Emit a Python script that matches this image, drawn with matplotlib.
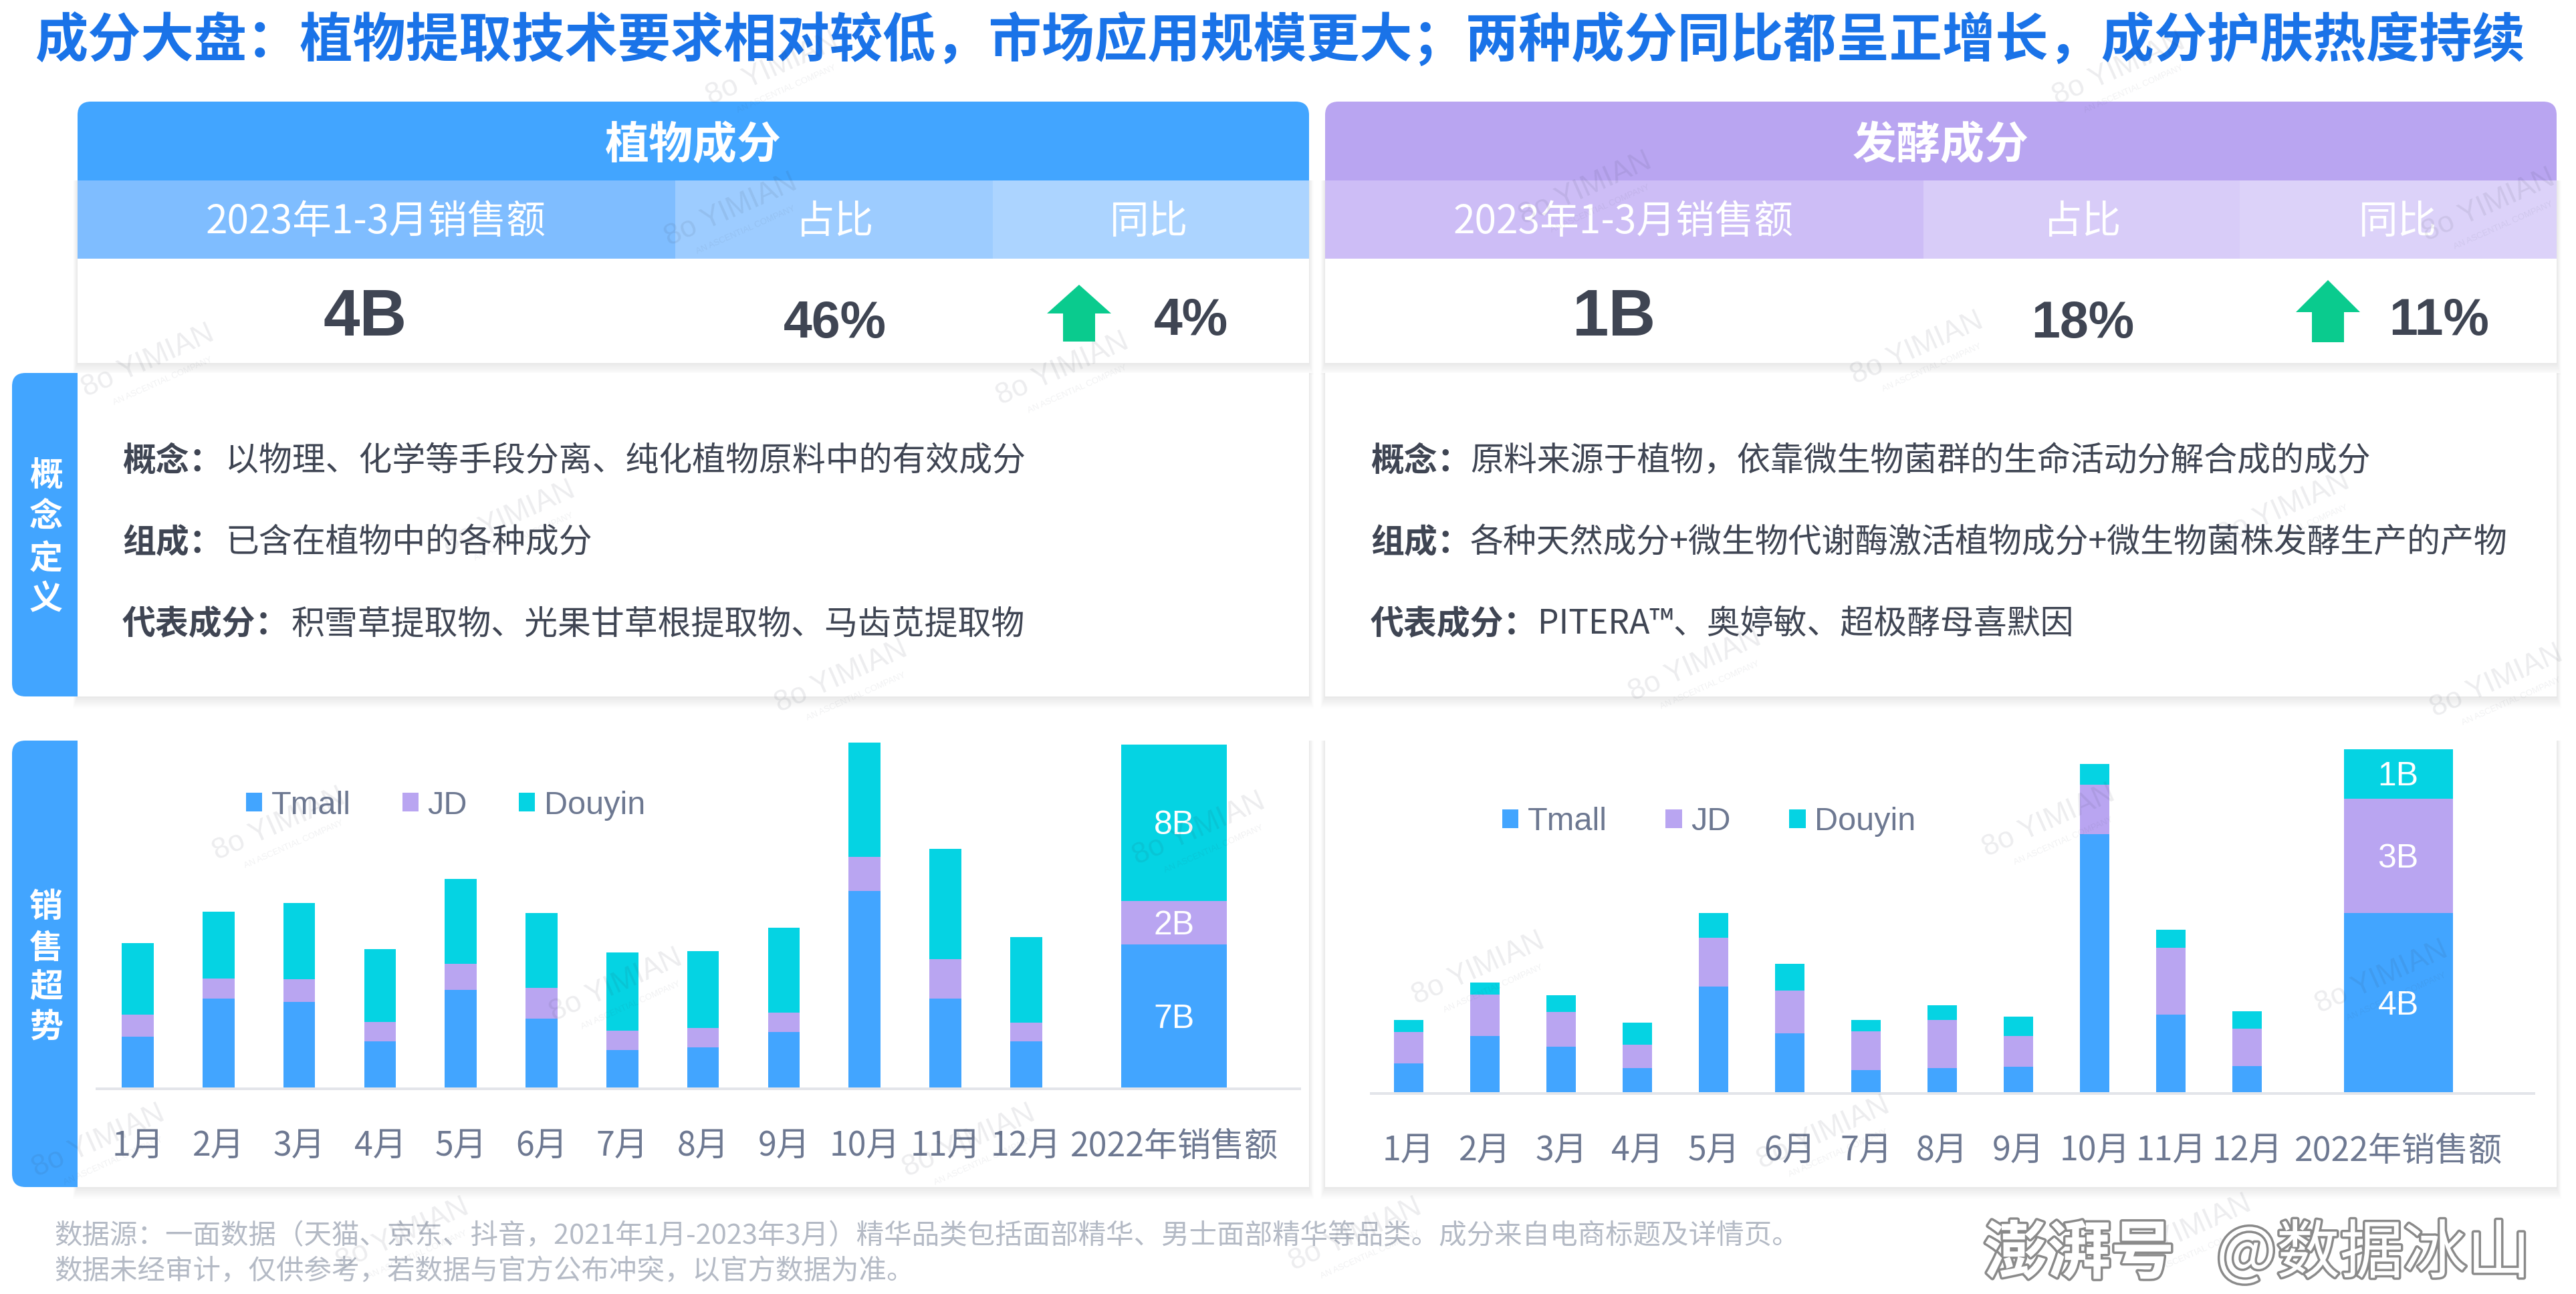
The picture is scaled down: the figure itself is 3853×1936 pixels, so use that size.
import numpy as np
import matplotlib
matplotlib.use('Agg')
import matplotlib.pyplot as plt
from matplotlib.patches import FancyBboxPatch, Rectangle, Polygon
import matplotlib.patheffects as pe

plt.rcParams['font.family'] = ['Noto Sans CJK SC', 'DejaVu Sans']

# * Chart data (heights, arbitrary unit)
months = ['1月', '2月', '3月', '4月', '5月', '6月', '7月', '8月', '9月', '10月', '11月', '12月', '2022年销售额']
series_names = ['Tmall', 'JD', 'Douyin']

plant_tmall = [1.43, 2.48, 2.39, 1.30, 2.72, 1.92, 1.07, 1.14, 1.55, 5.43, 2.47, 1.30]
plant_jd = [0.60, 0.54, 0.61, 0.53, 0.70, 0.84, 0.52, 0.52, 0.54, 0.92, 1.08, 0.51]
plant_douyin = [1.97, 1.84, 2.10, 1.99, 2.33, 2.06, 2.15, 2.12, 2.33, 3.14, 3.03, 2.35]
plant_2022 = [3.96, 1.19, 4.28]
plant_2022_labels = ['7B', '2B', '8B']

ferment_tmall = [0.83, 1.58, 1.29, 0.70, 2.93, 1.64, 0.64, 0.70, 0.74, 7.11, 2.17, 0.76]
ferment_jd = [0.85, 1.14, 0.94, 0.64, 1.34, 1.19, 1.06, 1.31, 0.84, 1.36, 1.83, 1.02]
ferment_douyin = [0.33, 0.33, 0.46, 0.60, 0.67, 0.73, 0.31, 0.40, 0.52, 0.57, 0.48, 0.47]
ferment_2022 = [4.95, 3.13, 1.36]
ferment_2022_labels = ['4B', '3B', '1B']

# full-width punctuation written as escapes
COLON, COMMA, SEMI, LP, RP = '\uff1a', '\uff0c', '\uff1b', '\uff08', '\uff09'

title = (f'成分大盘{COLON}植物提取技术要求相对较低{COMMA}市场应用规模更大{SEMI}'
         f'两种成分同比都呈正增长{COMMA}成分护肤热度持续')
sub_headers = ['2023年1-3月销售额', '占比', '同比']
footer = [f'数据源{COLON}一面数据{LP}天猫、京东、抖音{COMMA}2021年1月-2023年3月{RP}精华品类包括面部精华、男士面部精华等品类。成分来自电商标题及详情页。',
          f'数据未经审计{COMMA}仅供参考{COMMA}若数据与官方公布冲突{COMMA}以官方数据为准。']
plant_lines = [(f'概念{COLON}', '以物理、化学等手段分离、纯化植物原料中的有效成分'),
               (f'组成{COLON}', '已含在植物中的各种成分'),
               (f'代表成分{COLON}', '积雪草提取物、光果甘草根提取物、马齿苋提取物')]
ferment_lines = [(f'概念{COLON}', f'原料来源于植物{COMMA}依靠微生物菌群的生命活动分解合成的成分'),
                 (f'组成{COLON}', '各种天然成分+微生物代谢酶激活植物成分+微生物菌株发酵生产的产物'),
                 (f'代表成分{COLON}', 'PITERA™、奥婷敏、超极酵母喜默因')]
watermarks = [(90, 220), (647, 225), (1167, 212), (445, 128), (965, 115), (1515, 125), (310, 315), (1390, 310),
              (512, 412), (1032, 405), (1520, 415), (170, 502), (730, 505), (1247, 500), (375, 600), (900, 590),
              (1450, 595), (60, 695), (590, 695), (1110, 690), (470, 42), (1290, 42), (825, 752), (245, 752), (1330, 750)]

BLUE = '#42a5ff'
PURPLE = '#b9a5f1'
CYAN = '#05d3e3'
GREEN = '#0acb8e'
DARK = '#3f4553'
AXIS_TEXT = '#6d7891'

W, H = 3853, 1936
fig = plt.figure(figsize=(W / 100, H / 100), dpi=100, facecolor='white')

bg = fig.add_axes([0, 0, 1, 1], zorder=0)
bg.set_xlim(0, W)
bg.set_ylim(H, 0)
bg.axis('off')


def px(v):
    return v * 0.72


def card(x0, x1, y0, y1):
    for i in range(1, 12):
        bg.add_patch(Rectangle((x0 - i * 0.6, y0), x1 - x0 + i * 1.2, y1 - y0 + i * 1.6,
                               fc='#20304a', ec='none', alpha=0.006, zorder=1))
    bg.add_patch(Rectangle((x0, y0), x1 - x0, y1 - y0, fc='white', ec='none', zorder=2))


def header(x0, x1, splits, colors, name, sub_x, big, share, yoy, big_x, share_x, yoy_x, arrow):
    r = 20
    bg.add_patch(FancyBboxPatch((x0 + r, 152 + r), x1 - x0 - 2 * r, 60, boxstyle=f'round,pad={r}',
                                fc=colors[0], ec='none', zorder=3))
    bg.add_patch(Rectangle((x0, 190), x1 - x0, 80, fc=colors[0], ec='none', zorder=3))
    edges = [x0, splits[0], splits[1], x1]
    for i in range(3):
        bg.add_patch(Rectangle((edges[i], 270), edges[i + 1] - edges[i], 116.5, fc=colors[i + 1], ec='none', zorder=3))
        bg.text(sub_x[i], 332, sub_headers[i], color='white', fontsize=px(58.7), ha='center', va='center', zorder=4)
    bg.text((x0 + x1) / 2, 217, name, color='white', fontsize=px(66), fontweight='bold', ha='center', va='center', zorder=4)
    bg.text(big_x, 477, big, color=DARK, fontsize=px(98), fontweight='bold', family='Liberation Sans', ha='center', va='center', zorder=4)
    bg.text(share_x, 484, share, color=DARK, fontsize=px(77), fontweight='bold', family='Liberation Sans', ha='center', va='center', zorder=4)
    bg.text(yoy_x, 480, yoy, color=DARK, fontsize=px(77), fontweight='bold', family='Liberation Sans', ha='center', va='center', zorder=4)
    cx, tip, base, neck = arrow
    bg.add_patch(Polygon([(cx, tip), (cx + 48, neck), (cx + 24, neck), (cx + 24, base),
                          (cx - 24, base), (cx - 24, neck), (cx - 48, neck)], fc=GREEN, ec='none', zorder=4))


def definitions(lines, x_label, x_body):
    for (label, body), y, xb in zip(lines, [690, 812, 935], x_body):
        bg.text(x_label, y, label, color=DARK, fontsize=px(49.9), fontweight='bold', ha='left', va='center', zorder=4)
        bg.text(xb, y, body, color=DARK, fontsize=px(49.9), ha='left', va='center', zorder=4)


def side_tab(y0, y1, chars, ys):
    r = 20
    bg.add_patch(FancyBboxPatch((18 + r, y0 + r), 98 - r, y1 - y0 - 2 * r, boxstyle=f'round,pad={r}',
                                fc=BLUE, ec='none', zorder=3))
    bg.add_patch(Rectangle((116, y0), 25, y1 - y0, fc='white', ec='none', zorder=3))
    bg.add_patch(Rectangle((60, y0), 56, y1 - y0, fc=BLUE, ec='none', zorder=3))
    for c, y in zip(chars, ys):
        bg.text(69, y + 6, c, color='white', fontsize=px(50), fontweight='bold', ha='center', va='center', zorder=4)


def stacked_chart(tmall, jd, douyin, annual, annual_labels, x_left, x_right, base_y, first_x, step,
                  bar_w, annual_x, annual_w, legend_x, legend_y, col_space):
    top_y = 1100
    ax = fig.add_axes([x_left / W, 1 - base_y / H, (x_right - x_left) / W, (base_y - top_y) / H], zorder=1)
    ax.patch.set_alpha(0)
    pos = np.arange(12)
    t, j, d = np.array(tmall), np.array(jd), np.array(douyin)
    colors = [BLUE, PURPLE, CYAN]
    ax.bar(pos, t, bar_w / step, color=BLUE, label=series_names[0])
    ax.bar(pos, j, bar_w / step, bottom=t, color=PURPLE, label=series_names[1])
    ax.bar(pos, d, bar_w / step, bottom=t + j, color=CYAN, label=series_names[2])
    xa = (annual_x - first_x) / step
    bottom = 0
    for val, c, lab in zip(annual, colors, annual_labels):
        bars = ax.bar([xa], [val], annual_w / step, bottom=bottom, color=c)
        labels = ax.bar_label(bars, labels=[lab], label_type='center', color='white', fontsize=px(50), family='Liberation Sans')
        labels[0].xyann = (0, -3)
        bottom += val
    ax.set_xlim((x_left - first_x) / step, (x_right - first_x) / step)
    ax.set_ylim(0, (base_y - top_y) * 1.832 / 100)
    ax.set_xticks(list(pos) + [xa])
    ax.set_xticklabels(months, color=AXIS_TEXT, fontsize=px(50))
    ax.tick_params(axis='x', length=0, pad=px(60))
    ax.set_yticks([])
    for s in ['top', 'left', 'right']:
        ax.spines[s].set_visible(False)
    ax.spines['bottom'].set_color('#e3e5ea')
    ax.spines['bottom'].set_linewidth(px(4))
    ax.legend(loc='center left', bbox_to_anchor=(legend_x, legend_y), bbox_transform=bg.transData,
              ncol=3, frameon=False, borderpad=0, borderaxespad=0, handlelength=0.5, handleheight=0.5,
              handletextpad=0.28, columnspacing=col_space,
              prop={'family': 'Liberation Sans', 'size': px(48.6)}, labelcolor=AXIS_TEXT)


# * page furniture
bg.text(52, 61, title, color='#1a73e8', fontsize=px(79.2), fontweight='bold', ha='left', va='center', zorder=4)

for x0, x1 in [(116, 1958), (1982, 3824)]:
    card(x0, x1, 270, 543)
    card(x0, x1, 558, 1042)
    card(x0, x1, 1108, 1776)

header(116, 1958, (1010, 1485), [BLUE, '#7fbdff', '#9dccff', '#acd4ff'], '植物成分',
       [562, 1249, 1719], '4B', '46%', '4%', 546, 1249, 1781, (1614, 426, 511, 469))
header(1982, 3824, (2877, 3350), [PURPLE, '#cdbdf6', '#d8ccf8', '#dcd2f9'], '发酵成分',
       [2428, 3115, 3587], '1B', '18%', '11%', 2415, 3115, 3648, (3482, 419, 512, 467))

definitions(plant_lines, 183, [337, 337, 435])
definitions(ferment_lines, 2050, [2199, 2199, 2300])

side_tab(558, 1042, '概念定义', [707, 767, 831, 891])
side_tab(1108, 1776, '销售超势', [1351, 1413, 1471, 1531])

stacked_chart(plant_tmall, plant_jd, plant_douyin, plant_2022, plant_2022_labels,
              145, 1944, 1629, 206, 120.8, 47.5, 1756, 157.5, 368, 1205, 1.58)
stacked_chart(ferment_tmall, ferment_jd, ferment_douyin, ferment_2022, ferment_2022_labels,
              2051, 3790, 1636, 2107, 114, 44.7, 3587, 163, 2247, 1230, 1.8)

for line, y in zip(footer, [1849, 1902]):
    bg.text(81, y, line, color='#b4bac5', fontsize=px(41.5), ha='left', va='center', zorder=4)

# * overlays: pale logo marks and the site mark
top = fig.add_axes([0, 0, 1, 1], zorder=5)
top.set_xlim(0, W)
top.set_ylim(H, 0)
top.axis('off')
for mx, my in watermarks:
    cx, cy = mx * 2.457, my * 2.457
    top.text(cx, cy, '8o YIMIAN', color='#30384a', alpha=0.09, fontsize=px(44), family='Liberation Sans',
             rotation=24, ha='center', va='center')
    top.text(cx + 22, cy + 30, 'AN ASCENTIAL COMPANY', color='#30384a', alpha=0.07, fontsize=px(13),
             family='Liberation Sans', rotation=24, ha='center', va='center')

outline = [pe.withStroke(linewidth=5, foreground='#8a8a8a')]
top.text(3110, 1877, '澎湃号', color='white', fontsize=px(95), fontweight='bold', ha='center', va='center',
         path_effects=outline)
top.text(3550, 1877, '@数据冰山', color='white', fontsize=px(95), ha='center', va='center', path_effects=outline)

fig.savefig('out.png', dpi=100)
